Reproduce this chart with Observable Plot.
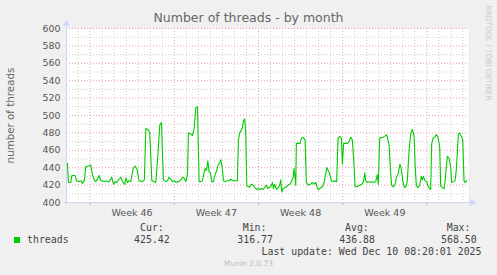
<!DOCTYPE html>
<html><head><meta charset="utf-8">
<script src="https://cdn.jsdelivr.net/npm/d3@7"></script>
<script src="https://cdn.jsdelivr.net/npm/@observablehq/plot@0.6"></script>
<style>
html,body{margin:0;padding:0;background:#f0f0f0;}
#wrap{position:relative;width:497px;height:275px;overflow:hidden;font-family:"DejaVu Sans";color:#666;}
#wrap svg{position:absolute;left:0;top:0;}
.t{position:absolute;white-space:pre;line-height:1;}
.mono{font-family:"DejaVu Sans Mono";font-size:9.9px;color:#444;}
</style></head><body><div id="wrap"></div>
<script>
// time in days relative to Monday of week 46 (Nov 10 00:00)
const day = [-1.87,-1.79,-1.59,-1.51,-1.23,-1.12,-0.90,-0.76,-0.62,-0.46,-0.35,-0.12,0.07,0.21,0.35,0.48,0.62,0.76,0.90,1.04,1.18,1.31,1.45,1.59,1.81,1.95,2.09,2.23,2.42,2.56,2.70,2.89,2.98,3.11,3.25,3.39,3.47,3.59,3.75,3.92,4.08,4.36,4.52,4.64,4.86,4.97,5.14,5.33,5.47,5.61,5.80,5.94,6.10,6.30,6.44,6.58,6.71,6.85,6.99,7.13,7.27,7.41,7.54,7.68,7.82,7.96,8.10,8.18,8.37,8.51,8.65,8.79,8.93,9.07,9.21,9.34,9.48,9.57,9.68,9.79,9.90,10.01,10.12,10.26,10.40,10.51,10.65,10.78,10.87,10.95,11.00,11.09,11.28,11.42,11.56,11.70,11.84,12.25,12.33,12.44,12.53,12.67,12.75,12.86,12.94,13.03,13.16,13.27,13.41,13.55,13.69,13.83,13.97,14.11,14.25,14.38,14.52,14.66,14.77,14.88,15.02,15.16,15.24,15.35,15.49,15.63,15.77,15.85,15.93,16.04,16.18,16.32,16.46,16.60,16.74,16.88,16.96,17.05,17.10,17.15,17.46,17.57,17.71,17.87,17.98,18.15,18.34,18.48,18.62,18.76,18.90,19.03,19.17,19.31,19.45,19.59,19.67,19.78,19.87,19.95,20.06,20.20,20.33,20.50,20.61,20.75,20.89,20.97,21.08,21.39,21.53,21.66,21.80,21.94,22.02,22.16,22.30,22.44,22.58,22.72,22.83,22.91,23.05,23.19,23.33,23.47,23.60,23.74,23.88,23.96,24.07,24.35,24.49,24.63,24.71,24.85,24.99,25.07,25.21,25.35,25.46,25.60,25.68,25.76,25.87,26.01,26.15,26.29,26.37,26.51,26.65,26.79,26.93,27.01,27.12,27.26,27.39,27.53,27.62,27.70,27.84,27.98,28.09,28.23,28.31,28.39,28.50,28.64,28.78,28.92,29.06,29.14,29.28,29.42,29.50,29.61,29.69,29.83,29.97,30.05,30.19,30.33,30.44,30.61,30.72,30.86,30.97,31.08,31.16,31.30];
const threads = [445,423,423,431,431,425,424,425,422,426,441,442,443,432,426,424,427,431,425,425,424,425,424,424,429,421,424,423,427,429,424,421,428,423,425,424,431,439,442,438,425,424,426,485,483,480,425,424,423,448,489,492,426,424,425,429,427,424,425,423,424,424,426,429,428,424,432,480,479,477,484,509,510,424,424,425,434,439,437,448,435,434,424,424,432,436,443,446,449,443,439,425,424,425,425,427,425,425,471,480,482,486,494,496,481,420,418,418,421,420,417,415,416,415,416,415,417,420,416,417,418,423,416,421,415,417,420,426,412,416,417,418,420,421,424,429,439,428,420,468,468,474,475,472,423,420,421,423,421,423,416,415,417,418,423,433,440,437,435,431,425,424,425,424,474,476,474,444,468,468,470,475,472,442,419,418,419,420,421,424,434,425,423,424,423,424,423,424,432,421,474,475,476,478,475,466,432,420,418,421,429,433,439,444,438,423,417,419,426,459,479,484,476,444,419,417,420,430,426,430,425,424,419,416,415,467,474,475,478,475,463,419,417,416,424,441,453,451,441,423,424,425,438,479,480,476,472,425,423,425];

const yTicks = [400,420,440,460,480,500,520,540,560,580,600];
const yMinor = [410,430,450,470,490,510,530,550,570,590];
const weekStart = [0,7,14,21,28];
const dayLines = d3.range(-1, 32).filter(d => d % 7 !== 0);
const weekLabelDay = [3.5,10.5,17.5,24.5];
const weekLabel = ["Week 46","Week 47","Week 48","Week 49"];
const xDomain = [-1.95, 31.45];

const legendHead = ["Cur:","Min:","Avg:","Max:"];
const legendVal = ["425.42","316.77","436.88","568.50"];
const seriesName = "threads";
const title = "Number of threads - by month";
const yLabel = "number of threads";
const lastUpdate = "Last update: Wed Dec 10 08:20:01 2025";
const watermark = "Munin 2.0.73";
const logo = "RRDTOOL / TOBI OETIKER";

const data = day.map((d, i) => ({day: d, v: threads[i]}));
const gridGray = "#cccccc", gridRed = "#eba0a0", axisCol = "#CFD6F8";

const chart = Plot.plot({
  width: 497, height: 222,
  marginTop: 28, marginLeft: 66, marginRight: 29, marginBottom: 20,
  style: {background: "transparent", color: "#555", fontFamily: "DejaVu Sans", fontSize: "9.5px", overflow: "visible"},
  x: {domain: xDomain},
  y: {domain: [400, 600]},
  marks: [
    Plot.frame({fill: "white", stroke: null}),
    Plot.ruleY(yMinor, {stroke: gridGray, strokeDasharray: "1,2"}),
    Plot.ruleX(dayLines, {stroke: gridGray, strokeDasharray: "1,2"}),
    Plot.ruleY(yTicks, {stroke: gridRed, strokeDasharray: "1,2"}),
    Plot.ruleX(weekStart, {stroke: gridRed, strokeDasharray: "1,2"}),
    Plot.ruleX(weekStart, {y1: 400, y2: 396.5, stroke: gridRed}),
    Plot.ruleX(dayLines, {y1: 400, y2: 398, stroke: gridGray}),
    Plot.ruleY([400], {x1: xDomain[0] - 0.15, x2: xDomain[1] + 0.3, stroke: axisCol}),
    Plot.ruleX([xDomain[0]], {y1: 397.5, y2: 605, stroke: axisCol}),
    Plot.dot([0], {x: xDomain[0], y: 605.5, symbol: "triangle", r: 2.6, fill: axisCol, stroke: null}),
    Plot.dot([0], {x: xDomain[1] + 0.3, y: 400, symbol: "triangle", rotate: 90, r: 2.6, fill: axisCol, stroke: null}),
    Plot.line(data, {x: "day", y: "v", stroke: "#00cc00", strokeWidth: 1.1}),
    Plot.axisY(yTicks, {tickSize: 0, tickPadding: 6, label: null, fontSize: 9.4}),
    Plot.axisX(weekLabelDay, {tickSize: 0, tickPadding: 7, label: null, fontSize: 9.5,
      tickFormat: d => weekLabel[weekLabelDay.indexOf(d)]}),
    Plot.text([yLabel], {frameAnchor: "left", dx: -56, rotate: -90, textAnchor: "middle", lineAnchor: "middle", fontSize: 10.3, fill: "#666"}),
    Plot.text([logo], {frameAnchor: "top-right", dx: 20, dy: -23, rotate: 90, textAnchor: "start", lineAnchor: "middle", fontSize: 7.4, fill: "#c8c8c8"})
  ]
});

const wrap = document.getElementById("wrap");
wrap.appendChild(chart);

function addText(txt, cls, left, top, extra) {
  const s = document.createElement("div");
  s.className = "t " + (cls || "");
  s.textContent = txt;
  s.style.left = left + "px";
  s.style.top = top + "px";
  Object.assign(s.style, extra || {});
  wrap.appendChild(s);
  return s;
}
addText(title, "", 0, 12.4, {width: "497px", textAlign: "center", fontSize: "12.5px", color: "#666"});

const sq = document.createElement("div");
Object.assign(sq.style, {position: "absolute", left: "14px", top: "237px", width: "6px", height: "6px", background: "#00cc00"});
wrap.appendChild(sq);
addText(seriesName, "mono", 27, 234.9);
const headLeft = [140, 242.7, 345, 446.7];
const valLeft = [134, 237.3, 339.3, 441];
legendHead.forEach((h, i) => addText(h, "mono", headLeft[i], 222.5));
legendVal.forEach((v, i) => addText(v, "mono", valLeft[i], 234.9));
addText(lastUpdate, "mono", 261.5, 246.9);
addText(watermark, "", 0, 260.4, {width: "497px", textAlign: "center", fontSize: "7.5px", color: "#bdbdbd"});
</script></body></html>
